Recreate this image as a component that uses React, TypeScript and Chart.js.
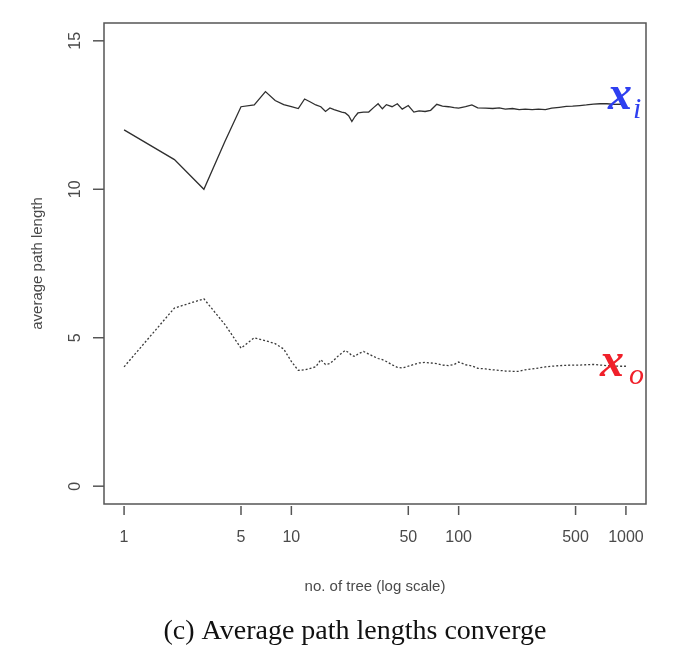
import React, { useEffect, useRef } from "react";
import { Chart, registerables } from "chart.js";

Chart.register(...registerables);

const treeCounts = [1, 2, 3, 4, 5, 6, 7, 8, 9, 10, 11, 12, 13, 14, 15, 16, 17, 18, 19, 20, 21, 22, 23, 24, 25, 27, 29, 31, 33, 35, 37, 40, 43, 46, 50, 54, 58, 63, 68, 74, 80, 87, 94, 100, 110, 120, 130, 145, 160, 175, 190, 210, 230, 250, 275, 300, 330, 360, 400, 440, 480, 530, 580, 640, 700, 770, 850, 930, 1000];

const inlierPath = [12.0, 11.0, 10.0, 11.6, 12.78, 12.84, 13.29, 12.99, 12.85, 12.78, 12.72, 13.04, 12.94, 12.84, 12.78, 12.62, 12.74, 12.68, 12.64, 12.6, 12.57, 12.48, 12.28, 12.45, 12.57, 12.6, 12.6, 12.75, 12.88, 12.71, 12.85, 12.78, 12.88, 12.7, 12.82, 12.6, 12.64, 12.62, 12.66, 12.86, 12.8, 12.78, 12.75, 12.73, 12.78, 12.84, 12.74, 12.73, 12.72, 12.74, 12.7, 12.72, 12.68, 12.7, 12.68, 12.7, 12.68, 12.73, 12.76, 12.79, 12.8, 12.82, 12.84, 12.87, 12.88, 12.88, 12.86, 12.87, 12.86];

const outlierPath = [4.02, 6.0, 6.31, 5.45, 4.65, 5.0, 4.9, 4.8, 4.62, 4.2, 3.9, 3.92, 3.97, 4.02, 4.26, 4.1, 4.13, 4.25, 4.38, 4.48, 4.57, 4.5, 4.4, 4.37, 4.45, 4.54, 4.45, 4.37, 4.3, 4.26, 4.2, 4.09, 4.0, 3.98, 4.04, 4.1, 4.15, 4.17, 4.15, 4.13, 4.08, 4.06, 4.1, 4.18, 4.09, 4.05, 3.97, 3.95, 3.92, 3.9, 3.88, 3.87, 3.87, 3.92, 3.95, 3.98, 4.02, 4.04, 4.06, 4.07, 4.08, 4.08, 4.09, 4.1, 4.08, 4.06, 4.05, 4.04, 4.04];

const xTicks = [1, 5, 10, 50, 100, 500, 1000];
const yTicks = [0, 5, 10, 15];
const xTitle = "no. of tree (log scale)";
const yTitle = "average path length";
const caption = "(c) Average path lengths converge";

const axisColor = "#555555";
const textColor = "#4a4a4a";
const sansFont = "Arial, 'Liberation Sans', sans-serif";
const serifFont = "'Times New Roman', 'Liberation Serif', serif";

const decorPlugin = {
  id: "rDecor",
  afterDraw(chart: any) {
    const { ctx, chartArea } = chart;
    const xs = chart.scales.x;
    const ys = chart.scales.y;
    const { left, right, top, bottom } = chartArea;
    ctx.save();
    // box
    ctx.strokeStyle = axisColor;
    ctx.lineWidth = 1.5;
    ctx.strokeRect(left, top, right - left, bottom - top);
    // x ticks
    ctx.fillStyle = textColor;
    ctx.font = `16px ${sansFont}`;
    ctx.textAlign = "center";
    ctx.textBaseline = "middle";
    xTicks.forEach((t) => {
      const px = xs.getPixelForValue(t);
      ctx.beginPath();
      ctx.moveTo(px, bottom + 2);
      ctx.lineTo(px, bottom + 11);
      ctx.stroke();
      ctx.fillText(String(t), px, bottom + 34);
    });
    // y ticks
    yTicks.forEach((t) => {
      const py = ys.getPixelForValue(t);
      ctx.beginPath();
      ctx.moveTo(left, py);
      ctx.lineTo(left - 11, py);
      ctx.stroke();
      ctx.save();
      ctx.translate(left - 28, py);
      ctx.rotate(-Math.PI / 2);
      ctx.fillText(String(t), 0, 0);
      ctx.restore();
    });
    // titles
    ctx.font = `15px ${sansFont}`;
    ctx.fillText(xTitle, (left + right) / 2, bottom + 83);
    ctx.save();
    ctx.translate(left - 66, (top + bottom) / 2);
    ctx.rotate(-Math.PI / 2);
    ctx.fillText(yTitle, 0, 0);
    ctx.restore();
    // annotations
    const lastX = xs.getPixelForValue(treeCounts[treeCounts.length - 1]);
    const inY = ys.getPixelForValue(inlierPath[inlierPath.length - 1]);
    const outY = ys.getPixelForValue(outlierPath[outlierPath.length - 1]);
    ctx.textAlign = "left";
    ctx.textBaseline = "alphabetic";
    ctx.fillStyle = "#2e3ff0";
    ctx.font = `bold italic 48px ${serifFont}`;
    ctx.fillText("x", lastX - 18, inY + 5);
    ctx.font = `italic 30px ${serifFont}`;
    ctx.fillText("i", lastX + 7, inY + 14);
    ctx.fillStyle = "#f0202a";
    ctx.font = `bold italic 48px ${serifFont}`;
    ctx.fillText("x", lastX - 26, outY + 10);
    ctx.font = `italic 30px ${serifFont}`;
    ctx.fillText("o", lastX + 3, outY + 18);
    // caption
    ctx.fillStyle = "#111111";
    ctx.textAlign = "center";
    ctx.textBaseline = "middle";
    ctx.font = `28px ${serifFont}`;
    ctx.fillText(caption, 355, 632);
    ctx.restore();
  },
};

export default function App() {
  const ref = useRef<HTMLCanvasElement>(null);
  useEffect(() => {
    if (!ref.current) return;
    const chart = new Chart(ref.current, {
      type: "scatter",
      data: {
        datasets: [
          {
            label: "inlier",
            data: treeCounts.map((n, i) => ({ x: n, y: inlierPath[i] })),
            showLine: true,
            borderColor: "#2f2f2f",
            borderWidth: 1.3,
            pointRadius: 0,
            tension: 0,
          },
          {
            label: "outlier",
            data: treeCounts.map((n, i) => ({ x: n, y: outlierPath[i] })),
            showLine: true,
            borderColor: "#3a3a3a",
            borderWidth: 1.3,
            borderDash: [2, 2],
            pointRadius: 0,
            tension: 0,
          },
        ],
      },
      options: {
        responsive: false,
        animation: false,
        layout: { padding: { left: 104, top: 23, right: 54, bottom: 152 } },
        plugins: { legend: { display: false }, tooltip: { enabled: false } },
        scales: {
          x: { type: "logarithmic", min: Math.pow(10, -0.12), max: Math.pow(10, 3.12), display: false },
          y: { type: "linear", min: -0.6, max: 15.6, display: false },
        },
      },
      plugins: [decorPlugin],
    });
    return () => chart.destroy();
  }, []);
  return (
    <div style={{ position: "absolute", left: 0, top: 0, width: 700, height: 656, background: "#fff" }}>
      <canvas ref={ref} width={700} height={656} />
    </div>
  );
}
